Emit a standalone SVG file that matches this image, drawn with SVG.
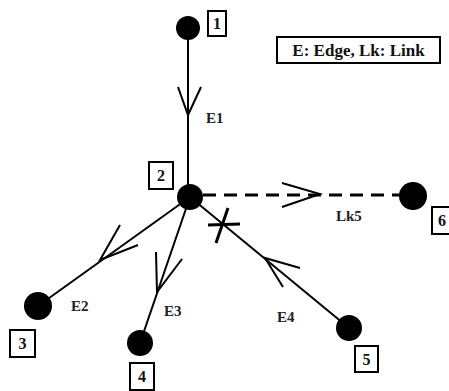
<svg xmlns="http://www.w3.org/2000/svg" width="449" height="391" viewBox="0 0 449 391">
<style>
.edge{stroke:#000;stroke-width:2;fill:none}
.link{stroke:#000;stroke-width:3;fill:none;stroke-dasharray:13 8}
.arr{stroke:#000;stroke-width:2;fill:none;stroke-linejoin:miter}
.dot{fill:#000}
.box{fill:#fff;stroke:#000;stroke-width:2}
.num{font-family:"Liberation Serif",serif;font-weight:bold;font-size:16px;fill:#111;text-anchor:middle}
.lbl{font-family:"Liberation Serif",serif;font-weight:bold;font-size:15px;fill:#222}
.leg{font-family:"Liberation Serif",serif;font-weight:bold;font-size:17px;fill:#111;text-anchor:middle}
</style>
<rect width="449" height="391" fill="#fff"/>
<g id="connectors">
<line class="edge" x1="188" y1="28" x2="188" y2="197"/>
<polyline class="arr" points="178,87 188,115 201,87"/>
<line class="link" x1="203" y1="195" x2="400" y2="195"/>
<polyline class="arr" points="282,183 320,194 282,207" stroke-width="2.5"/>
<line class="edge" x1="190" y1="197" x2="38" y2="306"/>
<polyline class="arr" points="120,225 100,260 138,245"/>
<line class="edge" x1="190" y1="197" x2="140" y2="343"/>
<polyline class="arr" points="156,252 157,292 182,259"/>
<line class="edge" x1="190" y1="197" x2="349" y2="328"/>
<polyline class="arr" points="300,268 265,258 283,287"/>
<line x1="208" y1="225" x2="240" y2="224" stroke="#000" stroke-width="3"/>
<line x1="228" y1="208" x2="216" y2="243" stroke="#000" stroke-width="3"/>
<text class="lbl" x="206" y="123">E1</text>
<text class="lbl" x="336" y="221">Lk5</text>
<text class="lbl" x="71" y="311">E2</text>
<text class="lbl" x="164" y="316">E3</text>
<text class="lbl" x="277" y="322">E4</text>
</g>
<g id="node1">
<circle class="dot" cx="188" cy="28" r="12"/>
<rect class="box" x="208" y="11" width="18" height="25"/>
<text class="num" x="217" y="29">1</text>
</g>
<g id="node2">
<circle class="dot" cx="190" cy="197" r="13"/>
<rect class="box" x="149" y="162" width="24" height="27"/>
<text class="num" x="161" y="181">2</text>
</g>
<g id="node3">
<circle class="dot" cx="38" cy="306" r="14"/>
<rect class="box" x="10" y="330" width="25" height="27"/>
<text class="num" x="22.5" y="349">3</text>
</g>
<g id="node4">
<circle class="dot" cx="140" cy="343" r="13"/>
<rect class="box" x="130" y="363" width="24" height="27"/>
<text class="num" x="142" y="382">4</text>
</g>
<g id="node5">
<circle class="dot" cx="349" cy="328" r="13"/>
<rect class="box" x="355" y="346" width="23" height="26"/>
<text class="num" x="366.5" y="365">5</text>
</g>
<g id="node6">
<circle class="dot" cx="413" cy="196" r="14"/>
<rect class="box" x="432" y="207" width="20" height="27"/>
<text class="num" x="442" y="226">6</text>
</g>
<g id="legend">
<rect class="box" x="277" y="37" width="163" height="26"/>
<text class="leg" x="358.5" y="56">E: Edge, Lk: Link</text>
</g>
</svg>
